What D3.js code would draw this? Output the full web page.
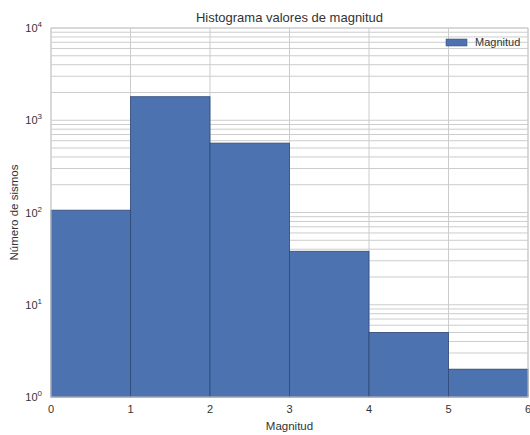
<!DOCTYPE html>
<html><head><meta charset="utf-8">
<script src="https://cdn.jsdelivr.net/npm/d3@7"></script>
<style>body{margin:0;background:#fff;} text{font-family:"Liberation Sans",Arial,sans-serif;}</style>
</head><body>
<svg id="c" width="530" height="435"></svg>
<script>
const binEdges = [0,1,2,3,4,5,6];
const counts = [106, 1800, 565, 38, 5, 2];
const xTicks = [0,1,2,3,4,5,6];
const yTickExps = [0,1,2,3,4];
const title = "Histograma valores de magnitud";
const xLabel = "Magnitud";
const yLabel = "Número de sismos";
const legendLabel = "Magnitud";

const svg = d3.select("#c");
const m = {l:51, r:528, t:28, b:397};
const x = d3.scaleLinear().domain([0,6]).range([m.l, m.r]);
const y = d3.scaleLog().domain([1,1e4]).range([m.b, m.t]);
const grid = "#cccccc";

// minor + major horizontal grid
const gy = [];
for (let e=0;e<4;e++) for (let k=1;k<=9;k++) gy.push(k*Math.pow(10,e));
gy.push(1e4);
svg.append("g").selectAll("line").data(gy).join("line")
  .attr("x1",m.l).attr("x2",m.r).attr("y1",d=>y(d)).attr("y2",d=>y(d))
  .attr("stroke",grid).attr("stroke-width",1);
svg.append("g").selectAll("line").data(xTicks).join("line")
  .attr("x1",d=>x(d)).attr("x2",d=>x(d)).attr("y1",m.t).attr("y2",m.b)
  .attr("stroke",grid).attr("stroke-width",1);

// bars
const bars = counts.map((c,i)=>({x0:binEdges[i], x1:binEdges[i+1], c}));
svg.append("g").selectAll("rect").data(bars).join("rect")
  .attr("x",d=>x(d.x0)).attr("width",d=>x(d.x1)-x(d.x0))
  .attr("y",d=>y(d.c)).attr("height",d=>y(1)-y(d.c))
  .attr("fill","#4c72b0").attr("stroke","#2f4a78").attr("stroke-width",0.8);

// frame
svg.append("rect").attr("x",m.l).attr("y",m.t).attr("width",m.r-m.l).attr("height",m.b-m.t)
  .attr("fill","none").attr("stroke",grid).attr("stroke-width",1);

// x tick labels
svg.append("g").selectAll("text").data(xTicks).join("text")
  .attr("x",d=>x(d)).attr("y",m.b+16).attr("text-anchor","middle")
  .attr("font-size",11).attr("fill","#333").text(d=>d);

// y tick labels
const yt = svg.append("g").selectAll("text").data(yTickExps).join("text")
  .attr("x",m.l-9).attr("y",d=>y(Math.pow(10,d))+4).attr("text-anchor","end")
  .attr("font-size",11).attr("fill","#333");
yt.append("tspan").text("10");
yt.append("tspan").attr("dy",-5).attr("font-size",8).text(d=>d);

// title & labels
svg.append("text").attr("x",(m.l+m.r)/2).attr("y",22).attr("text-anchor","middle")
  .attr("font-size",13).attr("fill","#333").text(title);
svg.append("text").attr("x",(m.l+m.r)/2).attr("y",430).attr("text-anchor","middle")
  .attr("font-size",11.5).attr("fill","#333").text(xLabel);
svg.append("text").attr("transform",`translate(18,${(m.t+m.b)/2}) rotate(-90)`)
  .attr("text-anchor","middle").attr("font-size",11.5).attr("fill","#333").text(yLabel);

// legend
svg.append("rect").attr("x",446).attr("y",39).attr("width",21).attr("height",7)
  .attr("fill","#4c72b0").attr("stroke","#2f4a78").attr("stroke-width",0.5);
svg.append("text").attr("x",475).attr("y",46).attr("font-size",11).attr("fill","#333").text(legendLabel);
</script>
</body></html>
